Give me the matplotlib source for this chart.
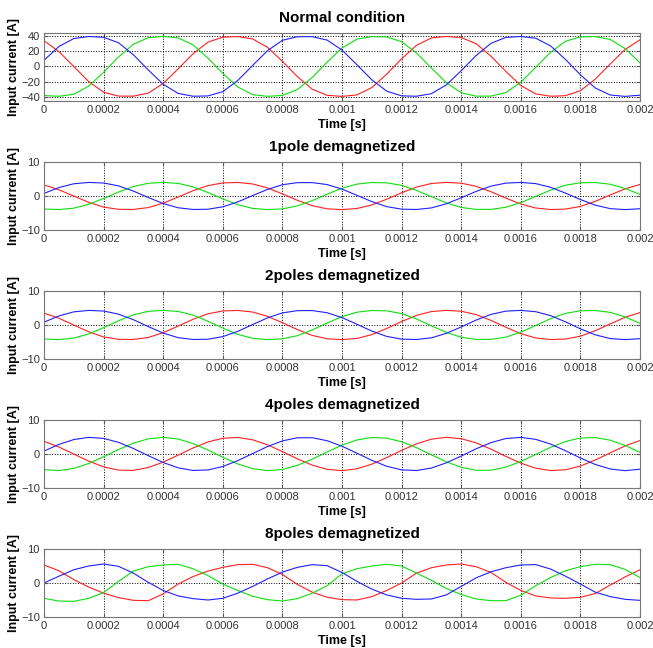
import matplotlib
matplotlib.use("Agg")
import matplotlib.pyplot as plt
import numpy as np

plt.rcParams['font.family'] = ['Liberation Sans', 'DejaVu Sans']

# sample times, in units of 1e-4 s
t_units = [0, 0.5, 1, 1.5, 2, 2.5, 3, 3.5, 4, 4.5, 5, 5.5, 6, 6.5, 7, 7.5, 8, 8.5, 9, 9.5,
           10, 10.5, 11, 11.5, 12, 12.5, 13, 13.5, 14, 14.5, 15, 15.5, 16, 16.5, 17, 17.5,
           18, 18.5, 19, 19.5, 20]

# Normal condition
normal_r = [33.4, 19.3, -0.2, -19.7, -33.6, -38.6, -38.7, -34.7, -22.1, -3.2, 16.5, 31.6, 38.1, 38.8,
            35.8, 24.8, 6.6, -13.2, -29.6, -37.6, -39.0, -37.1, -27.5, -10.0, 10.0, 27.5, 37.1, 39.0,
            37.6, 29.6, 13.2, -6.6, -24.8, -35.8, -38.8, -38.1, -31.6, -16.5, 3.2, 22.1, 34.7]
normal_g = [-37.9, -38.9, -36.2, -25.6, -7.6, 12.3, 28.9, 37.4, 39.0, 37.2, 28.1, 10.9, -9.0, -26.7,
            -36.7, -38.9, -37.8, -30.1, -14.2, 5.6, 24.0, 35.5, 38.8, 38.3, 32.2, 17.4, -2.2, -21.3,
            -34.3, -38.7, -38.6, -34.0, -20.5, -1.2, 18.4, 32.8, 38.4, 38.8, 35.1, 23.2, 4.6]
normal_b = [8.0, 25.9, 36.3, 38.9, 37.9, 30.8, 15.1, -4.6, -23.2, -35.1, -38.8, -38.4, -32.8, -18.4,
            1.2, 20.5, 34.0, 38.6, 38.7, 34.3, 21.3, 2.2, -17.4, -32.2, -38.3, -38.8, -35.5, -24.0,
            -5.6, 14.2, 30.1, 37.8, 38.9, 36.7, 26.7, 9.0, -10.9, -28.1, -37.2, -39.0, -37.4]

# 1 pole demagnetized
p1_r = [3.25, 1.83, -0.02, -1.86, -3.27, -3.92, -3.95, -3.4, -2.1, -0.3, 1.56, 3.06, 3.85, 3.98,
        3.54, 2.37, 0.63, -1.26, -2.85, -3.77, -4.0, -3.68, -2.63, -0.95, 0.95, 2.63, 3.68, 4.0,
        3.77, 2.85, 1.26, -0.63, -2.37, -3.54, -3.98, -3.85, -3.06, -1.56, 0.3, 2.1, 3.4]
p1_g = [-3.83, -3.98, -3.58, -2.45, -0.72, 1.16, 2.79, 3.74, 4.0, 3.71, 2.7, 1.04, -0.85, -2.56,
        -3.64, -3.99, -3.79, -2.92, -1.35, 0.53, 2.29, 3.5, 3.97, 3.87, 3.13, 1.65, -0.21, -2.02,
        -3.36, -3.94, -3.93, -3.31, -1.94, -0.12, 1.74, 3.18, 3.89, 3.96, 3.46, 2.22, 0.44]
p1_b = [0.76, 2.48, 3.6, 3.99, 3.82, 2.98, 1.44, -0.44, -2.22, -3.46, -3.96, -3.89, -3.18, -1.74,
        0.12, 1.94, 3.31, 3.93, 3.94, 3.36, 2.02, 0.21, -1.65, -3.13, -3.87, -3.97, -3.5, -2.29,
        -0.53, 1.35, 2.92, 3.79, 3.99, 3.64, 2.56, 0.85, -1.04, -2.7, -3.71, -4.0, -3.74]

# 2 poles demagnetized
p2_r = [3.49, 1.97, -0.02, -2.0, -3.52, -4.21, -4.25, -3.66, -2.26, -0.32, 1.68, 3.29, 4.14, 4.28,
        3.81, 2.55, 0.68, -1.35, -3.06, -4.05, -4.3, -3.96, -2.83, -1.02, 1.02, 2.83, 3.96, 4.3,
        4.05, 3.06, 1.35, -0.68, -2.55, -3.81, -4.28, -4.14, -3.29, -1.68, 0.32, 2.26, 3.66]
p2_g = [-4.12, -4.28, -3.85, -2.63, -0.77, 1.25, 3.0, 4.02, 4.3, 3.99, 2.9, 1.12, -0.91, -2.75,
        -3.91, -4.29, -4.07, -3.14, -1.45, 0.57, 2.46, 3.76, 4.27, 4.16, 3.36, 1.77, -0.23, -2.17,
        -3.61, -4.24, -4.22, -3.56, -2.09, -0.13, 1.87, 3.42, 4.18, 4.26, 3.72, 2.39, 0.47]
p2_b = [0.82, 2.67, 3.87, 4.29, 4.11, 3.2, 1.55, -0.47, -2.38, -3.72, -4.26, -4.18, -3.42, -1.87,
        0.13, 2.09, 3.56, 4.22, 4.24, 3.61, 2.18, 0.22, -1.78, -3.36, -4.16, -4.27, -3.77, -2.46,
        -0.57, 1.45, 3.13, 4.08, 4.29, 3.91, 2.75, 0.92, -1.12, -2.9, -3.99, -4.3, -4.02]

# 4 poles demagnetized
p4_r = [3.75, 2.06, -0.02, -2.1, -3.78, -4.74, -4.82, -3.97, -2.39, -0.34, 1.76, 3.54, 4.64, 4.87,
        4.18, 2.7, 0.71, -1.42, -3.27, -4.51, -4.9, -4.36, -2.99, -1.06, 1.06, 2.99, 4.36, 4.9,
        4.51, 3.27, 1.42, -0.71, -2.7, -4.18, -4.87, -4.64, -3.54, -1.76, 0.34, 2.39, 3.97]
p4_g = [-4.61, -4.88, -4.23, -2.78, -0.81, 1.31, 3.19, 4.47, 4.9, 4.41, 3.08, 1.17, -0.96, -2.91,
        -4.31, -4.89, -4.55, -3.35, -1.52, 0.6, 2.61, 4.12, 4.86, 4.67, 3.61, 1.86, -0.24, -2.29,
        -3.91, -4.79, -4.77, -3.85, -2.2, -0.13, 1.96, 3.68, 4.7, 4.84, 4.06, 2.51, 0.49]
p4_b = [0.86, 2.82, 4.25, 4.89, 4.59, 3.43, 1.62, -0.49, -2.51, -4.06, -4.84, -4.7, -3.68, -1.96,
        0.13, 2.2, 3.85, 4.77, 4.79, 3.91, 2.29, 0.24, -1.86, -3.61, -4.67, -4.86, -4.12, -2.61,
        -0.6, 1.52, 3.35, 4.55, 4.89, 4.31, 2.91, 0.96, -1.17, -3.08, -4.41, -4.9, -4.47]

# 8 poles demagnetized
p8_r = [5.3, 3.6, 1.0, -1.2, -3.0, -4.3, -5.1, -5.2, -3.2, -0.3, 1.9, 3.5, 4.6, 5.4, 5.5, 4.5,
        2.5, -0.4, -2.7, -4.2, -4.9, -5.0, -4.0, -2.2, 0.0, 2.9, 4.5, 5.3, 5.6, 4.8, 3.1, 0.2,
        -2.2, -3.8, -4.4, -4.5, -4.2, -3.1, -0.6, 1.8, 3.9]
p8_g = [-4.5, -5.3, -5.4, -4.5, -2.8, 0.5, 3.5, 4.8, 5.3, 5.5, 4.2, 2.2, -0.3, -2.2, -3.9, -4.9,
        -5.3, -4.6, -3.0, -0.8, 2.7, 4.2, 5.0, 5.5, 5.0, 2.9, 0.8, -1.6, -3.4, -4.7, -5.2, -5.2,
        -3.6, -0.8, 1.6, 3.6, 4.8, 5.5, 5.4, 4.0, 1.6]
p8_b = [0.0, 2.0, 3.9, 5.0, 5.6, 4.9, 2.9, 0.2, -2.2, -3.8, -4.6, -5.0, -4.5, -3.0, -1.0, 1.2,
        3.2, 4.6, 5.4, 5.1, 3.1, 0.5, -1.8, -3.5, -4.5, -4.8, -4.7, -3.5, -1.0, 1.5, 3.3, 4.5,
        5.3, 5.4, 4.1, 2.0, -0.3, -2.7, -4.0, -4.8, -5.1]

titles = ["Normal condition", "1pole demagnetized", "2poles demagnetized",
          "4poles demagnetized", "8poles demagnetized"]
series = [(normal_r, normal_g, normal_b), (p1_r, p1_g, p1_b), (p2_r, p2_g, p2_b),
          (p4_r, p4_g, p4_b), (p8_r, p8_g, p8_b)]

xticks = [0, 0.0002, 0.0004, 0.0006, 0.0008, 0.001, 0.0012, 0.0014, 0.0016, 0.0018, 0.002]
xticklabels = ['0', '0.0002', '0.0004', '0.0006', '0.0008', '0.001', '0.0012', '0.0014',
               '0.0016', '0.0018', '0.002']

t = np.array(t_units) * 1e-4

fig = plt.figure(figsize=(6.53, 6.48), dpi=100)

W, H = 653.0, 648.0
left, right = 44, 640
tops = [33, 162, 291, 420, 549]
height = 68

for i, (title, (r, g, b)) in enumerate(zip(titles, series)):
    top = tops[i]
    ax = fig.add_axes([left / W, 1 - (top + height) / H, (right - left) / W, height / H])
    ax.plot(t, r, color='#ff2020', lw=0.8)
    ax.plot(t, g, color='#10dd10', lw=0.8)
    ax.plot(t, b, color='#2020ff', lw=0.8)
    ax.set_xlim(0, 0.002)
    if i == 0:
        ax.set_ylim(-45, 43.5)
        ax.set_yticks([-40, -20, 0, 20, 40])
    else:
        ax.set_ylim(-10, 10)
        ax.set_yticks([-10, 0, 10])
    ax.set_xticks(xticks)
    ax.set_xticklabels(xticklabels)
    ax.grid(True, linestyle=':', color='k', lw=0.7)
    ax.tick_params(direction='in', top=True, right=True, length=3, labelsize=8,
                   labelcolor='#333333', color='#555555', pad=3)
    for s in ax.spines.values():
        s.set_color('#777777')
        s.set_linewidth(0.8)
    ax.set_title(title, fontsize=11, fontweight='bold', pad=8)
    ax.set_xlabel("Time [s]", fontsize=9, fontweight='bold', labelpad=3)
    ax.set_ylabel("Input current [A]", fontsize=9, fontweight='bold', labelpad=1)

plt.savefig("out.png", dpi=100)
